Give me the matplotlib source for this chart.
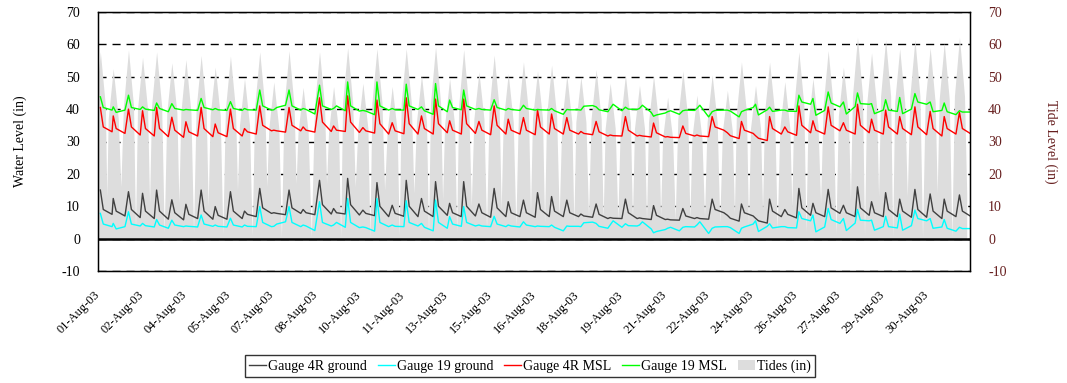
import matplotlib
matplotlib.use("Agg")
import matplotlib.pyplot as plt
from matplotlib.patches import Patch
from matplotlib.lines import Line2D

# time of each high tide, hours after 01-Aug-03 00:00
tide_hours = [2, 13, 26, 38, 50, 63, 75, 88, 100, 113,
              125, 138, 150, 163, 175, 189, 201, 213, 226, 238,
              251, 263, 276, 288, 300, 312, 325, 338, 350, 363,
              375, 387, 400, 412, 425, 437, 450, 462, 474, 486,
              499, 511, 524, 537, 549, 561, 573, 586, 598, 610,
              623, 636, 648, 660, 672, 684, 697, 710, 722, 735]
tide_high = [57.7, 52.5, 58.3, 56.0, 57.7, 54.3, 55.3, 56.6, 53.0, 56.4,
             49.5, 57.7, 48.4, 58.0, 46.7, 57.7, 47.0, 59.0, 48.0, 58.7,
             47.0, 58.7, 50.5, 59.3, 49.5, 58.4, 51.5, 56.7, 51.0, 54.6,
             51.8, 53.6, 50.5, 50.0, 52.2, 48.0, 50.6, 47.4, 50.3, 43.7,
             51.8, 44.3, 50.6, 45.8, 54.6, 47.3, 54.5, 48.5, 57.7, 49.5,
             58.1, 53.0, 62.2, 57.4, 61.4, 58.7, 61.5, 59.0, 60.5, 62.2]
# level about 4 h either side of high water
tide_mid = [41, 37, 41, 40, 41, 39, 39, 40, 38, 40,
            35, 41, 34, 41, 33, 41, 33, 42, 34, 42,
            33, 42, 36, 42, 35, 41, 37, 40, 36, 39,
            37, 38, 36, 36, 37, 34, 36, 34, 36, 31,
            37, 31, 36, 33, 39, 34, 39, 34, 41, 35,
            41, 38, 44, 41, 44, 42, 44, 42, 43, 44]
# low water following each high tide
tide_low = [13, 16, 3, 11, 2, 11, 2, 10, 1.5, 15,
            1, 16, 0.5, 17, 0.5, 17, 0.5, 16, 0.5, 15,
            1, 14, 1.5, 12, 2, 10, 3, 9, 4, 8,
            5, 7, 5, 7, 6, 6, 6, 6, 7, 6,
            6, 7, 5, 8, 4, 9, 3, 10, 2, 11,
            1.5, 12, 1, 13, 0.5, 13, 0.5, 14, 0.5, 14]

# gauge readings per tide cycle: (at high tide, 2.5 h later, before next rise)
gauge_4r_ground = [
    (15.0, 9.0, 7.5), (12.4, 8.5, 7.0), (14.5, 9.0, 6.5), (14.0, 8.5, 6.2), (15.0, 8.5, 6.0),
    (12.0, 8.0, 5.8), (10.6, 7.5, 6.2), (15.0, 8.5, 6.0), (9.9, 7.2, 6.0), (14.5, 8.5, 6.2),
    (8.5, 7.5, 6.8), (15.5, 9.5, 7.8), (8.0, 7.8, 7.4), (15.0, 9.5, 7.8), (9.0, 8.0, 7.4),
    (18.0, 10.5, 7.6), (9.3, 8.0, 7.6), (18.6, 10.5, 7.3), (8.8, 7.8, 7.1), (17.3, 10.0, 6.8),
    (10.3, 7.8, 6.9), (18.0, 10.0, 6.8), (12.4, 8.5, 6.8), (17.6, 10.0, 7.2), (10.9, 8.0, 6.8),
    (17.6, 10.0, 7.0), (10.7, 8.0, 6.6), (15.5, 9.5, 6.8), (11.4, 8.0, 6.8), (11.9, 8.0, 6.6),
    (14.2, 9.0, 6.8), (13.0, 8.5, 6.8), (11.9, 8.0, 6.8), (7.6, 7.0, 6.6), (10.7, 7.5, 6.2),
    (6.5, 6.3, 6.2), (12.2, 8.0, 6.2), (6.4, 6.2, 5.9), (10.2, 7.2, 5.9), (6.0, 5.8, 5.7),
    (9.3, 7.0, 6.2), (6.5, 6.2, 6.0), (12.2, 9.0, 8.0), (7.2, 6.3, 5.4), (10.7, 8.0, 7.0),
    (6.3, 5.5, 4.8), (12.2, 8.5, 6.8), (9.0, 7.5, 6.4), (15.5, 9.5, 7.2), (10.9, 8.0, 6.8),
    (15.2, 9.5, 7.8), (10.3, 8.0, 6.8), (16.0, 9.5, 7.2), (11.4, 8.0, 6.8), (14.2, 9.0, 6.8),
    (12.2, 8.5, 6.6), (15.2, 9.0, 6.6), (13.8, 8.5, 6.2), (12.2, 8.5, 6.8), (13.5, 8.5, 6.8),
]
gauge_19_ground = [
    (7.8, 4.5, 3.7), (4.7, 3.0, 3.7), (8.3, 4.5, 3.9), (4.7, 4.0, 3.6), (5.9, 4.2, 3.2),
    (5.7, 4.2, 3.7), (3.9, 3.8, 3.6), (7.3, 4.5, 3.8), (4.2, 3.8, 3.6), (6.3, 4.2, 3.6),
    (4.2, 3.8, 3.7), (9.9, 5.0, 3.7), (3.8, 4.5, 5.2), (9.9, 5.0, 3.7), (4.2, 3.9, 2.5),
    (11.4, 5.0, 3.9), (4.2, 5.0, 3.5), (12.4, 5.0, 3.4), (3.6, 3.4, 2.3), (12.4, 5.0, 3.7),
    (4.2, 3.8, 3.7), (11.7, 5.0, 3.9), (4.7, 3.5, 2.4), (11.9, 5.0, 3.2), (6.8, 4.5, 3.8),
    (9.9, 5.0, 3.9), (4.2, 3.9, 3.7), (6.9, 4.5, 3.7), (4.2, 3.9, 3.6), (5.2, 4.2, 3.7),
    (3.9, 3.8, 3.7), (4.2, 3.5, 2.4), (3.9, 3.8, 3.8), (3.7, 4.9, 5.1), (4.7, 3.8, 3.2),
    (4.2, 5.5, 3.5), (4.6, 4.0, 3.9), (4.2, 5.2, 3.0), (1.8, 2.2, 2.8), (3.2, 3.5, 2.4),
    (3.5, 3.7, 3.6), (4.2, 5.2, 1.6), (3.2, 3.6, 3.7), (3.7, 3.4, 1.6), (3.2, 3.6, 4.5),
    (5.5, 2.2, 3.8), (4.6, 3.3, 3.7), (3.7, 3.4, 3.3), (8.3, 6.2, 5.5), (7.3, 2.1, 3.6),
    (9.3, 5.9, 4.7), (6.2, 2.5, 4.8), (9.0, 5.7, 5.5), (5.7, 2.6, 3.7), (6.9, 3.7, 3.3),
    (7.6, 2.6, 4.0), (8.8, 6.2, 5.5), (6.2, 3.2, 3.6), (5.9, 3.2, 2.3), (3.5, 3.1, 3.1),
]
gauge_4r_msl = [
    (40.5, 34.5, 33.0), (37.9, 34.0, 32.5), (40.0, 34.5, 32.0), (39.5, 34.0, 31.7), (40.5, 34.0, 31.5),
    (37.5, 33.5, 31.3), (36.1, 33.0, 31.7), (40.5, 34.0, 31.5), (35.4, 32.7, 31.5), (40.0, 34.0, 31.7),
    (34.0, 33.0, 32.3), (41.0, 35.0, 33.3), (33.5, 33.3, 32.9), (40.5, 35.0, 33.3), (34.5, 33.5, 32.9),
    (43.5, 36.0, 33.1), (34.8, 33.5, 33.1), (44.1, 36.0, 32.8), (34.3, 33.3, 32.6), (42.8, 35.5, 32.3),
    (35.8, 33.3, 32.4), (43.5, 35.5, 32.3), (37.9, 34.0, 32.3), (43.1, 35.5, 32.7), (36.4, 33.5, 32.3),
    (43.1, 35.5, 32.5), (36.2, 33.5, 32.1), (41.0, 35.0, 32.3), (36.9, 33.5, 32.3), (37.4, 33.5, 32.1),
    (39.7, 34.5, 32.3), (38.5, 34.0, 32.3), (37.4, 33.5, 32.3), (33.1, 32.5, 32.1), (36.2, 33.0, 31.7),
    (32.0, 31.8, 31.7), (37.7, 33.5, 31.7), (31.9, 31.7, 31.4), (35.7, 32.7, 31.4), (31.5, 31.3, 31.2),
    (34.8, 32.5, 31.7), (32.0, 31.7, 31.5), (37.7, 34.5, 33.5), (32.7, 31.8, 30.9), (36.2, 33.5, 32.5),
    (31.8, 31.0, 30.3), (37.7, 34.0, 32.3), (34.5, 33.0, 31.9), (41.0, 35.0, 32.7), (36.4, 33.5, 32.3),
    (40.7, 35.0, 33.3), (35.8, 33.5, 32.3), (41.5, 35.0, 32.7), (36.9, 33.5, 32.3), (39.7, 34.5, 32.3),
    (37.7, 34.0, 32.1), (40.7, 34.5, 32.1), (39.3, 34.0, 31.7), (37.7, 34.0, 32.3), (39.0, 34.0, 32.3),
]
gauge_19_msl = [
    (43.8, 40.5, 39.7), (40.7, 39.0, 39.7), (44.3, 40.5, 39.9), (40.7, 40.0, 39.6), (41.9, 40.2, 39.2),
    (41.7, 40.2, 39.7), (39.9, 39.8, 39.6), (43.3, 40.5, 39.8), (40.2, 39.8, 39.6), (42.3, 40.2, 39.6),
    (40.2, 39.8, 39.7), (45.9, 41.0, 39.7), (39.8, 40.5, 41.2), (45.9, 41.0, 39.7), (40.2, 39.9, 38.5),
    (47.4, 41.0, 39.9), (40.2, 41.0, 39.5), (48.4, 41.0, 39.4), (39.6, 39.4, 38.3), (48.4, 41.0, 39.7),
    (40.2, 39.8, 39.7), (47.7, 41.0, 39.9), (40.7, 39.5, 38.4), (47.9, 41.0, 39.2), (42.8, 40.5, 39.8),
    (45.9, 41.0, 39.9), (40.2, 39.9, 39.7), (42.9, 40.5, 39.7), (40.2, 39.9, 39.6), (41.2, 40.2, 39.7),
    (39.9, 39.8, 39.7), (40.2, 39.5, 38.4), (39.9, 39.8, 39.8), (39.7, 40.9, 41.1), (40.7, 39.8, 39.2),
    (40.2, 41.5, 39.5), (40.6, 40.0, 39.9), (40.2, 41.2, 39.0), (37.8, 38.2, 38.8), (39.2, 39.5, 38.4),
    (39.5, 39.7, 39.6), (40.2, 41.2, 37.6), (39.2, 39.6, 39.7), (39.7, 39.4, 37.6), (39.2, 39.6, 40.5),
    (41.5, 38.2, 39.8), (40.6, 39.3, 39.7), (39.7, 39.4, 39.3), (44.3, 42.2, 41.5), (43.3, 38.1, 39.6),
    (45.3, 41.9, 40.7), (42.2, 38.5, 40.8), (45.0, 41.7, 41.5), (41.7, 38.6, 39.7), (42.9, 39.7, 39.3),
    (43.6, 38.6, 40.0), (44.8, 42.2, 41.5), (42.2, 39.2, 39.6), (41.9, 39.2, 38.3), (39.5, 39.1, 39.1),
]

date_labels = ['01-Aug-03', '02-Aug-03', '04-Aug-03', '05-Aug-03', '07-Aug-03',
               '08-Aug-03', '10-Aug-03', '11-Aug-03', '13-Aug-03', '15-Aug-03',
               '16-Aug-03', '18-Aug-03', '19-Aug-03', '21-Aug-03', '22-Aug-03',
               '24-Aug-03', '26-Aug-03', '27-Aug-03', '29-Aug-03', '30-Aug-03']
span_hours = 744


def cycle_line(readings):
    xs, ys = [], []
    for t, (high, tail, base) in zip(tide_hours, readings):
        xs += [t, t + 2.5, t + 10]
        ys += [high, tail, base]
    return xs, ys


plt.rcParams['font.family'] = ['Liberation Serif', 'DejaVu Serif']
plt.rcParams['axes.unicode_minus'] = False
fig = plt.figure(figsize=(10.67, 3.83), dpi=100)
ax = fig.add_axes([98 / 1067, 1 - 271 / 383, 872 / 1067, 259 / 383])

# tide curve: shoulder, high water, shoulder, then low water halfway to the next high
tx, ty = [], []
for i, t in enumerate(tide_hours):
    nxt = tide_hours[i + 1] if i + 1 < len(tide_hours) else t + 12.4
    tx += [t - 4.3, t, t + 4.3, (t + nxt) / 2]
    ty += [tide_mid[i], tide_high[i], tide_mid[i], tide_low[i]]
ax.fill_between(tx, 0, ty, color='#dddddd', lw=0, zorder=1)

ax.axhline(0, color='black', lw=1.8, zorder=1.5)

series = [(gauge_4r_ground, '#404040', 'Gauge 4R ground'),
          (gauge_19_ground, '#00ffff', 'Gauge 19 ground'),
          (gauge_4r_msl, '#ff0000', 'Gauge 4R MSL'),
          (gauge_19_msl, '#00ff00', 'Gauge 19 MSL')]
handles = []
for data, col, name in series:
    x, y = cycle_line(data)
    ax.plot(x, y, color=col, lw=1.0, zorder=2)
    handles.append(Line2D([], [], color=col, lw=1.0, label=name))
handles.append(Patch(facecolor='#dddddd', edgecolor='none', label='Tides (in)'))

ax.set_xlim(0, span_hours)
ax.set_ylim(-10, 70)
ax.set_yticks(range(-10, 71, 10))
ax.yaxis.grid(True, color='black', lw=1.0, linestyle=(0, (5.8, 4.3)))
ax.set_axisbelow(True)
step = span_hours / len(date_labels)
ax.set_xticks([i * step for i in range(len(date_labels))])
ax.set_xticklabels(date_labels, rotation=45, ha='right', va='center',
                   rotation_mode='anchor', fontsize=9)
ax.tick_params(axis='x', length=0, pad=16)
ax.tick_params(axis='y', length=0, pad=13, labelsize=10)
ax.set_ylabel('Water Level (in)', fontsize=10, labelpad=25)
for s in ax.spines.values():
    s.set_linewidth(1.0)

ax2 = ax.twinx()
ax2.set_ylim(-10, 70)
ax2.set_yticks(range(-10, 71, 10))
ax2.tick_params(axis='y', length=0, pad=13, labelsize=10, labelcolor='#661e1e')
ax2.set_ylabel('Tide Level (in)', fontsize=10, color='#661e1e', rotation=270, labelpad=37)

fig.legend(handles=handles, loc='center', bbox_to_anchor=(530 / 1067, 1 - 366 / 383),
           ncol=5, fontsize=10, frameon=True, fancybox=False, edgecolor='black',
           handlelength=1.2, handletextpad=0.15, columnspacing=0.8, borderpad=0.3)
fig.legends[0].get_frame().set_linewidth(1.0)

fig.savefig('out.png', dpi=100)
